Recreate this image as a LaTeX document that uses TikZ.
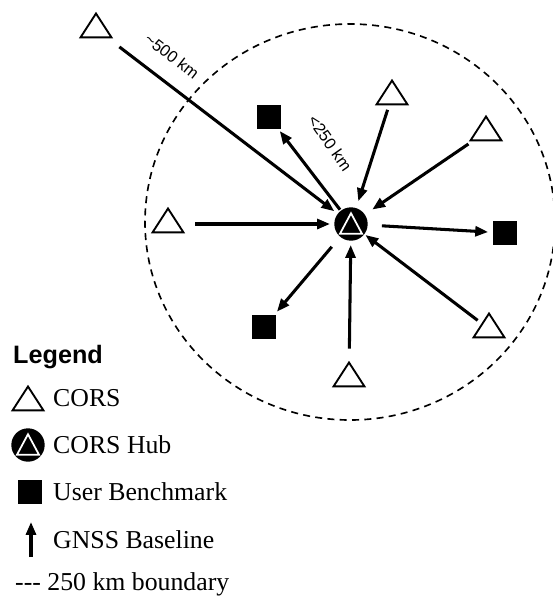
\documentclass[tikz,border=0pt]{standalone}
\usepackage{fontspec}
\setmainfont{Liberation Serif}
\newfontfamily\arialfont{Liberation Sans}
\usepackage{tikz}
\usetikzlibrary{arrows.meta}
\usetikzlibrary{shapes.geometric}

\tikzset{
  cors/.style={draw, line width=1.6pt, isosceles triangle, isosceles triangle stretches,
    shape border rotate=90, minimum width=26.4pt, minimum height=20.4pt, inner sep=0pt},
  corshub/.style={circle, fill=black, minimum size=28.5pt, inner sep=0pt,
    path picture={\draw[white, line width=1.5pt, line join=miter]
      ([shift={(-9.4pt,-8.3pt)}]path picture bounding box.center) --
      ([shift={(9.4pt,-8.3pt)}]path picture bounding box.center) --
      ([shift={(0pt,9.2pt)}]path picture bounding box.center) -- cycle;}},
  bench/.style={rectangle, fill=black, minimum size=20.4pt, inner sep=0pt},
  gnss/.style={line width=2.6pt, -{Triangle[length=11pt,width=8.5pt]}},
  boundary/.style={dashed, line width=1.4pt, dash pattern=on 6pt off 4.5pt},
  legtext/.style={anchor=base west, inner sep=0pt, font=\fontsize{22}{26}\selectfont},
  kmlabel/.style={inner sep=1pt, font=\arialfont\fontsize{14}{16}\selectfont},
}

\begin{document}
\begin{tikzpicture}[x=0.03cm, y=-0.03cm]
          \useasboundingbox (0,0) rectangle (553,602);
          % 250 km boundary
          \draw[boundary] (350,222) ellipse [x radius=205, y radius=198];
          % CORS stations
          \node[cors] (corsfar) at (96,29) {};
          \node[cors] (corsn) at (392,96) {};
          \node[cors] (corsne) at (486,132) {};
          \node[cors] (corsw) at (168,224) {};
          \node[cors] (corss) at (349,378) {};
          \node[cors] (corsse) at (489,329) {};
          % hub
          \node[corshub] (hub) at (351,224) {};
          % user benchmarks
          \node[bench] (bmnw) at (269,117) {};
          \node[bench] (bme) at (505,233) {};
          \node[bench] (bmsw) at (264,327) {};
          % baselines into the hub
          \draw[gnss, shorten <=12pt, shorten >=3.5pt] (corsfar) -- (hub);
          \draw[gnss, shorten <=4pt, shorten >=6pt] (corsn) -- (hub);
          \draw[gnss, shorten <=4pt, shorten >=7.5pt] (corsne) -- (hub);
          \draw[gnss, shorten <=13.5pt, shorten >=3.5pt] (corsw) -- (hub);
          \draw[gnss, shorten <=10pt, shorten >=3.5pt] (corss) -- (hub);
          \draw[gnss, shorten <=4pt, shorten >=1pt] (corsse) -- (hub);
          % baselines out of the hub
          \draw[gnss, shorten <=1pt, shorten >=2pt] (hub) -- (bmnw);
          \draw[gnss, shorten <=12pt, shorten >=4pt] (hub) -- (bme);
          \draw[gnss, shorten <=11pt, shorten >=3.5pt] (hub) -- (bmsw);
          % distance labels
          \node[kmlabel, rotate=-38] (farlabel) at (172,56) {\textasciitilde500 km};
          \node[kmlabel, rotate=-55] (nearlabel) at (330,143) {<250 km};
          % legend
          \node[anchor=base west, inner sep=0pt, font=\arialfont\bfseries\fontsize{21.5}{26}\selectfont] (legtitle) at (13,363) {Legend};
          \node[cors] (legcors) at (28,402) {};
          \node[legtext] (legcorstext) at (53,406) {CORS};
          \node[corshub] (leghub) at (28,445) {};
          \node[legtext] (leghubtext) at (53,453) {CORS Hub};
          \node[bench] (legbench) at (30,492) {};
          \node[legtext] (legbenchtext) at (53,500) {User Benchmark};
          \coordinate (legarrowbot) at (31,557);
          \coordinate (legarrowtop) at (31,522);
          \draw[gnss] (legarrowbot) -- (legarrowtop);
          \node[legtext] (leggnsstext) at (53,548) {GNSS Baseline};
          \node[legtext] (legboundtext) at (15,590) {-{}-{}- 250 km boundary};
        \end{tikzpicture}
\end{document}
